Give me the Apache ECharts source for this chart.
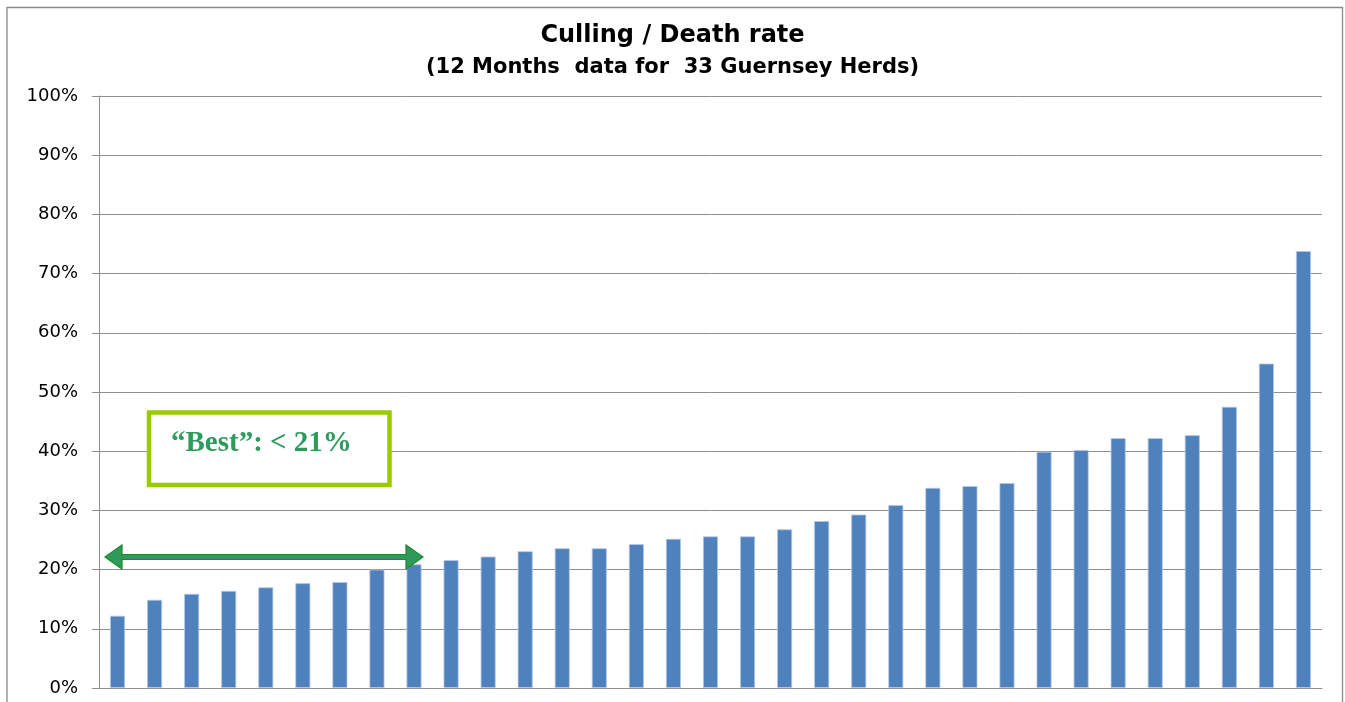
<!DOCTYPE html>
<html>
<head>
<meta charset="utf-8">
<script src="https://cdn.jsdelivr.net/npm/echarts@6.0.0/dist/echarts.min.js"></script>
<style>
    html, body { margin: 0; padding: 0; background: #fff; }
    #chart { width: 1345px; height: 702px; }
</style>
</head>
<body>
<div id="chart"></div>
<script>
// one bar per herd, sorted low to high
var herds = ['1', '2', '3', '4', '5', '6', '7', '8', '9', '10', '11',
             '12', '13', '14', '15', '16', '17', '18', '19', '20', '21', '22',
             '23', '24', '25', '26', '27', '28', '29', '30', '31', '32', '33'];
var cullingRate = [12.2, 14.9, 15.9, 16.4, 17.0, 17.7, 17.9, 20.0, 20.9, 21.6, 22.2,
                   23.1, 23.6, 23.6, 24.3, 25.2, 25.6, 25.6, 26.8, 28.2, 29.3, 30.9,
                   33.8, 34.1, 34.6, 39.9, 40.2, 42.2, 42.2, 42.7, 47.5, 54.8, 73.8];
var titleText = 'Culling / Death rate';
var subtitleText = '(12 Months  data for  33 Guernsey Herds)';
var noteText = '\u201CBest\u201D: < 21%';

(function() {
    var chart = echarts.init(document.getElementById('chart'));
    var gridColor = '#8e8e8e';

    chart.setOption({
        animation: false,
        title: [{
            text: titleText,
            left: 'center',
            top: 16,
            textStyle: {
                fontFamily: 'DejaVu Sans',
                fontWeight: 'bold',
                fontSize: 24,
                lineHeight: 30,
                color: '#000'
            }
        }, {
            text: subtitleText,
            left: 'center',
            top: 50,
            textStyle: {
                fontFamily: 'DejaVu Sans',
                fontWeight: 'bold',
                fontSize: 21,
                lineHeight: 26,
                color: '#000'
            }
        }],
        grid: {left: 99, right: 23, top: 96, bottom: 14},
        xAxis: {
            type: 'category',
            data: herds,
            axisLine: {lineStyle: {color: gridColor, width: 1}},
            axisTick: {show: false},
            axisLabel: {show: false},
            splitLine: {show: false}
        },
        yAxis: {
            type: 'value',
            min: 0,
            max: 100,
            interval: 10,
            axisLine: {show: true, lineStyle: {color: gridColor, width: 1}},
            axisTick: {show: true, length: 7, lineStyle: {color: gridColor}},
            axisLabel: {
                formatter: '{value}%',
                margin: 21,
                color: '#000',
                fontFamily: 'DejaVu Sans',
                fontSize: 18
            },
            splitLine: {lineStyle: {color: gridColor, width: 1}}
        },
        series: [{
            name: 'Culling / Death rate',
            type: 'bar',
            data: cullingRate,
            barWidth: 15,
            itemStyle: {
                color: '#4f81bd',
                borderColor: '#b4c8e3',
                borderWidth: 0.8
            }
        }],
        graphic: [{
            // outer chart frame, bottom runs off the picture
            type: 'rect',
            silent: true,
            z: -1,
            shape: {x: 7, y: 7.5, width: 1335.5, height: 720},
            style: {fill: null, stroke: '#8a8a8a', lineWidth: 1.3}
        }, {
            type: 'rect',
            silent: true,
            z: 100,
            shape: {x: 149, y: 412.5, width: 240.5, height: 72.5},
            style: {fill: '#fff', stroke: '#99cc00', lineWidth: 4.5}
        }, {
            type: 'text',
            silent: true,
            z: 101,
            x: 171,
            y: 444,
            style: {
                text: noteText,
                font: 'bold 29px "Liberation Serif", "Times New Roman", serif',
                fill: '#2e9a5c',
                verticalAlign: 'middle'
            }
        }, {
            type: 'polygon',
            silent: true,
            z: 100,
            shape: {
                points: [[105, 557], [122, 545], [122, 554.5], [406, 554.5], [406, 545],
                         [423, 557], [406, 569], [406, 559.5], [122, 559.5], [122, 569]]
            },
            style: {fill: '#2f9a5a', stroke: '#1e8a2e', lineWidth: 1.2}
        }]
    });

    window.addEventListener('resize', function() { chart.resize(); });
})();
</script>
</body>
</html>
